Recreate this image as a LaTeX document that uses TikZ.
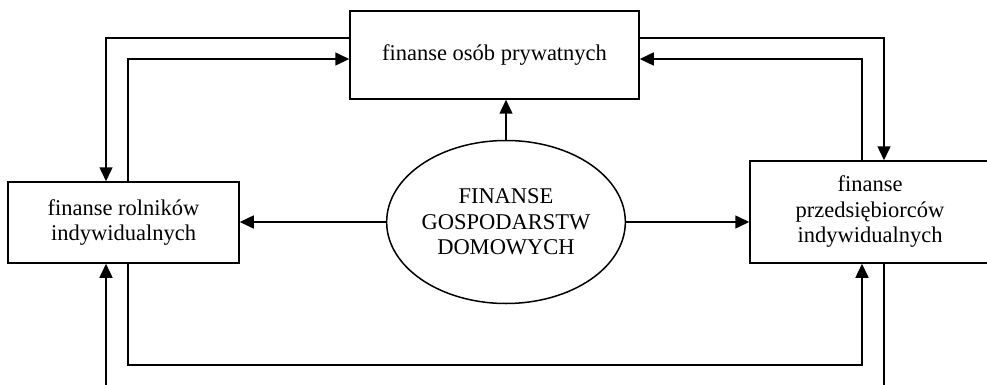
\documentclass[tikz,border=0pt]{standalone}
\usepackage{fontspec}
\setmainfont{Liberation Serif}
\usetikzlibrary{arrows.meta, positioning, shapes.geometric}
\tikzset{every picture/.style={x=1pt, y=-1pt, line width=1.5pt, font=\fontsize{22.5}{25.5}\selectfont},
  box/.style={draw, rectangle, align=center, inner sep=0pt},
  arr/.style={-{Triangle[length=14pt, width=13pt]}}}

\begin{document}
\begin{tikzpicture}
            \clip (0,0) rectangle (987,385);
            \node (box prv) at(494.5,55) [box, minimum width=289, minimum height=88] {finanse osób prywatnych};
            \node (box rol) at(123.5,222.5) [box, minimum width=231, minimum height=81] {finanse rolników\\indywidualnych};
            \node (box prz) at(870,212) [box, minimum width=240, minimum height=102] {finanse\\przedsiębiorców\\indywidualnych};
            \node (ell dom) at(506,222) [draw, ellipse, align=center, inner sep=0pt, minimum width=222, minimum height=163] {FINANSE\\GOSPODARSTW\\DOMOWYCH};

            \coordinate (top out l) at (106,38);
            \coordinate (top in l) at (128,59);
            \coordinate (top out r) at (884,38);
            \coordinate (top in r) at (862,59);
            \coordinate (bot in l) at (128,365);
            \coordinate (bot in r) at (862,365);
            \coordinate (bot out l) at (106,395);
            \coordinate (bot out r) at (884,395);

            \draw[arr] (box prv.west |- top out l) -| (top out l |- box rol.north);
            \draw[arr] (top in l |- box rol.north) |- (box prv.west |- top in l);
            \draw[arr] (box prv.east |- top out r) -| (top out r |- box prz.north);
            \draw[arr] (top in r |- box prz.north) |- (box prv.east |- top in r);
            \draw[arr] (ell dom.north) -- (ell dom.north |- box prv.south);
            \draw[arr] (ell dom.west) -- (ell dom.west -| box rol.east);
            \draw[arr] (ell dom.east) -- (ell dom.east -| box prz.west);
            \draw[arr] (bot in l |- box rol.south) -- (bot in l) -| (bot in r |- box prz.south);
            \draw[arr] (bot out l) -- (bot out l |- box rol.south);
            \draw (bot out r |- box prz.south) -- (bot out r);
\end{tikzpicture}
\end{document}
